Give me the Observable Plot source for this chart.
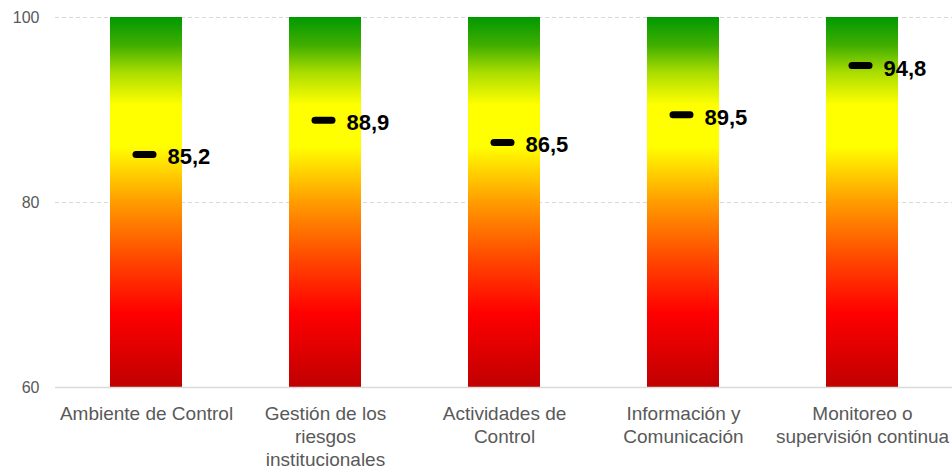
<!DOCTYPE html>
<html>
<head>
<meta charset="utf-8">
<script src="https://cdn.jsdelivr.net/npm/d3@7"></script>
<script src="https://cdn.jsdelivr.net/npm/@observablehq/plot@0.6"></script>
<style>
  html, body { margin: 0; padding: 0; background: #fff; }
  #chart svg { display: block; }
</style>
</head>
<body>
<div id="chart"></div>
<script>
const categories = [
  "Ambiente de Control",
  "Gestión de los\nriesgos\ninstitucionales",
  "Actividades de\nControl",
  "Información y\nComunicación",
  "Monitoreo o\nsupervisión continua"
];
const scores = [85.2, 88.9, 86.5, 89.5, 94.8];
const yTicks = [60, 80, 100];
const gradientStops = [
  {value: 60, color: "#c00000"},
  {value: 68, color: "#ff0000"},
  {value: 74, color: "#ff4a00"},
  {value: 80, color: "#ff9c00"},
  {value: 86, color: "#ffff00"},
  {value: 90.5, color: "#ffff00"},
  {value: 94, color: "#aadd00"},
  {value: 97, color: "#3fae00"},
  {value: 100, color: "#009900"}
];

const data = categories.map((c, i) => ({cat: c, value: scores[i]}));
const fmt = v => v.toFixed(1).replace(".", ",");

const gradientDefs = () => {
  const svgNS = "http://www.w3.org/2000/svg";
  const defs = document.createElementNS(svgNS, "defs");
  const lg = document.createElementNS(svgNS, "linearGradient");
  lg.setAttribute("id", "barGrad");
  lg.setAttribute("x1", "0"); lg.setAttribute("y1", "1");
  lg.setAttribute("x2", "0"); lg.setAttribute("y2", "0");
  for (const s of gradientStops) {
    const st = document.createElementNS(svgNS, "stop");
    st.setAttribute("offset", ((s.value - 60) / 40).toString());
    st.setAttribute("stop-color", s.color);
    lg.appendChild(st);
  }
  defs.appendChild(lg);
  return defs;
};

const chart = Plot.plot({
  width: 952,
  height: 475,
  marginTop: 17,
  marginBottom: 88,
  marginLeft: 55,
  marginRight: 0,
  style: {fontFamily: "'Liberation Sans', Arial, sans-serif", background: "#fff"},
  x: {domain: categories, paddingInner: 0.6, paddingOuter: 0.3, label: null},
  y: {domain: [60, 100], label: null},
  marks: [
    gradientDefs,
    Plot.gridY([80, 100], {stroke: "#d9d9d9", strokeOpacity: 1, strokeDasharray: "4,3"}),
    Plot.barY(data, {x: "cat", y1: 60, y2: 100, fill: "url(#barGrad)"}),
    Plot.ruleY([60], {stroke: "#d9d9d9", strokeWidth: 1.5}),
    Plot.axisY(yTicks, {tickSize: 0, tickPadding: 16, fontSize: 16, fill: "#595959", label: null}),
    Plot.axisX({tickSize: 0, tickPadding: 16, fontSize: 19, fill: "#595959", lineHeight: 1.22,
      fontFamily: "'Liberation Sans Narrow', 'Arial Narrow', 'Liberation Sans', sans-serif", label: null}),
    Plot.tickY(data, {x: "cat", y: "value", stroke: "#000", strokeWidth: 7, strokeLinecap: "round",
      insetLeft: 26, insetRight: 29}),
    Plot.text(data, {x: "cat", y: "value", text: d => fmt(d.value), textAnchor: "start", dx: 21, dy: 3,
      fontSize: 22, fontWeight: "bold", fill: "#000",
      fontFamily: "'Liberation Sans Narrow', 'Arial Narrow', 'Liberation Sans', sans-serif"})
  ]
});
document.getElementById("chart").appendChild(chart);
</script>
</body>
</html>
